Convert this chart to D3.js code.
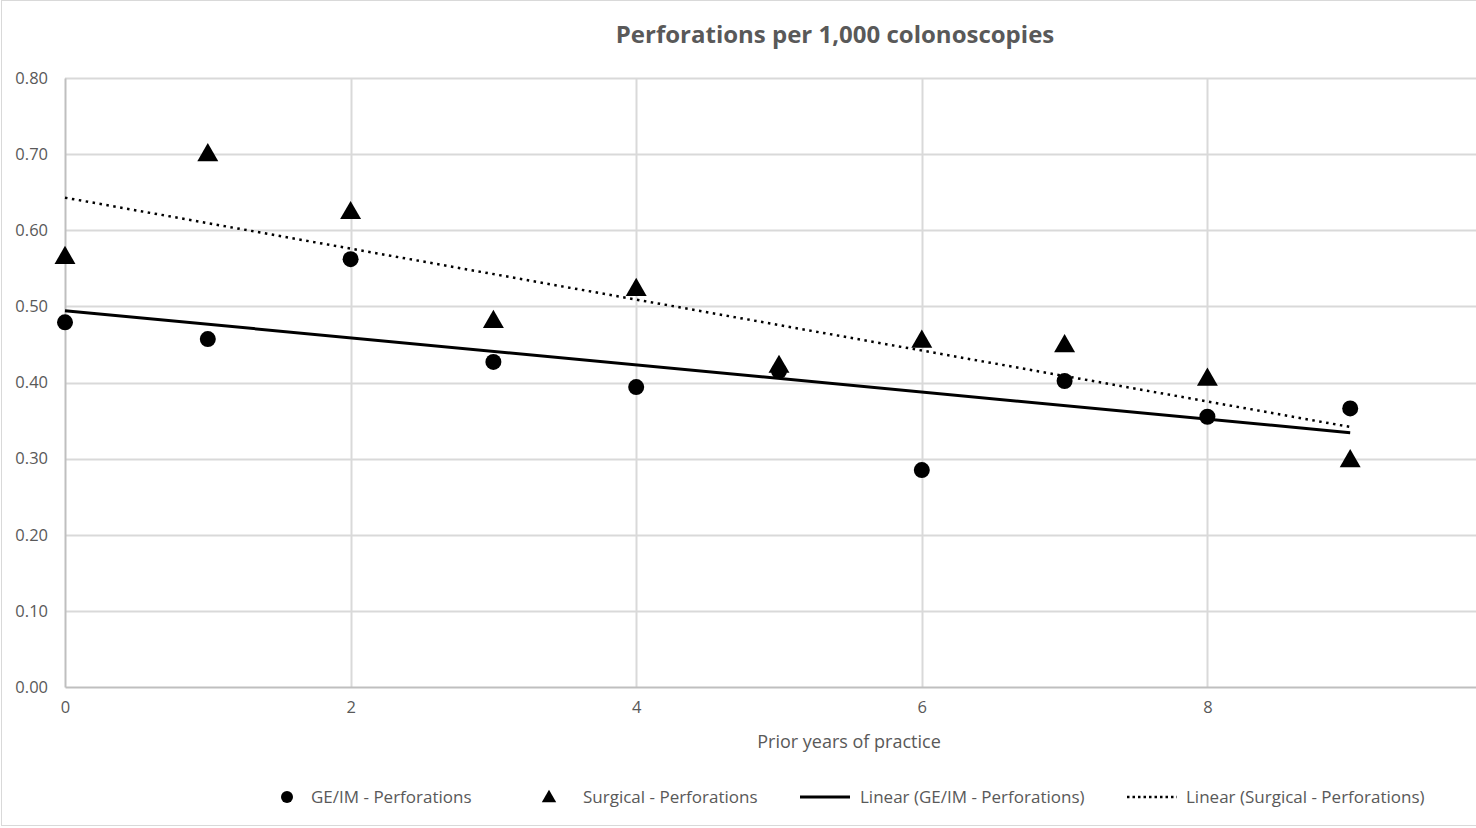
<!DOCTYPE html>
<html>
<head>
<meta charset="utf-8">
<script src="https://cdn.jsdelivr.net/npm/d3@7"></script>
<style>
  body { margin: 0; background: #fff; }
  svg { display: block; font-family: "Open Sans", "Liberation Sans", sans-serif; }
</style>
</head>
<body>
<svg id="chart" width="1476" height="828"></svg>
<script>
// data
const years = [0, 1, 2, 3, 4, 5, 6, 7, 8, 9];
const geim = [0.479, 0.457, 0.562, 0.427, 0.394, 0.415, 0.285, 0.402, 0.355, 0.366];
const surgical = [0.565, 0.700, 0.624, 0.481, 0.523, 0.422, 0.455, 0.449, 0.405, 0.298];
const xTicks = [0, 2, 4, 6, 8];
const yTicks = [0, 0.1, 0.2, 0.3, 0.4, 0.5, 0.6, 0.7, 0.8];
const legendLabels = ["GE/IM - Perforations", "Surgical - Perforations",
  "Linear (GE/IM - Perforations)", "Linear (Surgical - Perforations)"];

const svg = d3.select("#chart");

// plot area (right edge runs past the picture like the original)
const plotL = 65, plotT = 78, plotB = 687, plotR = 1493;
const x = d3.scaleLinear().domain([0, 10]).range([plotL, plotR]);
const y = d3.scaleLinear().domain([0, 0.8]).range([plotB, plotT]);

// chart border
svg.append("rect")
  .attr("x", 1.5).attr("y", 0.5)
  .attr("width", 1600).attr("height", 825)
  .attr("fill", "none").attr("stroke", "#d9d9d9");

// title
svg.append("text")
  .attr("x", 835).attr("y", 43)
  .attr("text-anchor", "middle")
  .attr("font-size", 24).attr("font-weight", "bold")
  .attr("fill", "#595959")
  .text("Perforations per 1,000 colonoscopies");

// grid
svg.append("g")
  .selectAll("line")
  .data(yTicks.filter(d => d > 0))
  .join("line")
  .attr("x1", plotL).attr("x2", plotR)
  .attr("y1", d => Math.round(y(d)) + 0.5).attr("y2", d => Math.round(y(d)) + 0.5)
  .attr("stroke", "#d9d9d9").attr("stroke-width", 2);

svg.append("g")
  .selectAll("line")
  .data(xTicks.filter(d => d > 0))
  .join("line")
  .attr("x1", d => Math.round(x(d)) + 0.5).attr("x2", d => Math.round(x(d)) + 0.5)
  .attr("y1", plotT).attr("y2", plotB)
  .attr("stroke", "#d9d9d9").attr("stroke-width", 2);

// axes
const yAxis = svg.append("g")
  .attr("transform", `translate(${plotL},0)`)
  .call(d3.axisLeft(y).tickValues(yTicks).tickFormat(d3.format(".2f")).tickSize(0).tickPadding(17));
const xAxis = svg.append("g")
  .attr("transform", `translate(0,${plotB})`)
  .call(d3.axisBottom(x).tickValues(xTicks).tickSize(0).tickPadding(14));

[xAxis, yAxis].forEach(a => {
  a.select(".domain").attr("stroke", "#bfbfbf").attr("stroke-width", 2);
  a.selectAll("text").attr("font-size", 16.5).attr("fill", "#595959")
    .attr("font-family", "'Open Sans', 'Liberation Sans', sans-serif");
});

svg.append("text")
  .attr("x", 849).attr("y", 748)
  .attr("text-anchor", "middle")
  .attr("font-size", 18).attr("fill", "#595959")
  .text("Prior years of practice");

// least squares trend lines
function fit(xs, ys) {
  const mx = d3.mean(xs), my = d3.mean(ys);
  const b = d3.sum(xs, (v, i) => (v - mx) * (ys[i] - my)) / d3.sum(xs, v => (v - mx) ** 2);
  return v => my + b * (v - mx);
}
const line = d3.line().x(d => x(d[0])).y(d => y(d[1]));
const ends = [years[0], years[years.length - 1]];

const fGe = fit(years, geim), fSu = fit(years, surgical);
svg.append("path")
  .attr("d", line(ends.map(v => [v, fGe(v)])))
  .attr("fill", "none").attr("stroke", "#000").attr("stroke-width", 3);
svg.append("path")
  .attr("d", line(ends.map(v => [v, fSu(v)])))
  .attr("fill", "none").attr("stroke", "#000").attr("stroke-width", 2.5)
  .attr("stroke-dasharray", "2.5 4.5");

// markers
const tri = d3.symbol().type(d3.symbolTriangle).size(190);

svg.append("g")
  .selectAll("circle")
  .data(years)
  .join("circle")
  .attr("cx", d => x(d)).attr("cy", (d, i) => y(geim[i]))
  .attr("r", 8).attr("fill", "#000");

svg.append("g")
  .selectAll("path")
  .data(years)
  .join("path")
  .attr("transform", (d, i) => `translate(${x(d)},${y(surgical[i]) + 1})`)
  .attr("d", tri).attr("fill", "#000");

// legend
const lg = svg.append("g").attr("font-size", 17).attr("fill", "#595959");
lg.append("circle").attr("cx", 287).attr("cy", 797).attr("r", 6).attr("fill", "#000");
lg.append("text").attr("x", 311).attr("y", 803).text(legendLabels[0]);
lg.append("path").attr("transform", "translate(549,798)")
  .attr("d", d3.symbol().type(d3.symbolTriangle).size(90)).attr("fill", "#000");
lg.append("text").attr("x", 583).attr("y", 803).text(legendLabels[1]);
lg.append("line").attr("x1", 800).attr("x2", 850).attr("y1", 797).attr("y2", 797)
  .attr("stroke", "#000").attr("stroke-width", 3);
lg.append("text").attr("x", 860).attr("y", 803).text(legendLabels[2]);
lg.append("line").attr("x1", 1127).attr("x2", 1177).attr("y1", 797).attr("y2", 797)
  .attr("stroke", "#000").attr("stroke-width", 2.5).attr("stroke-dasharray", "2.5 3");
lg.append("text").attr("x", 1186).attr("y", 803).text(legendLabels[3]);
</script>
</body>
</html>
